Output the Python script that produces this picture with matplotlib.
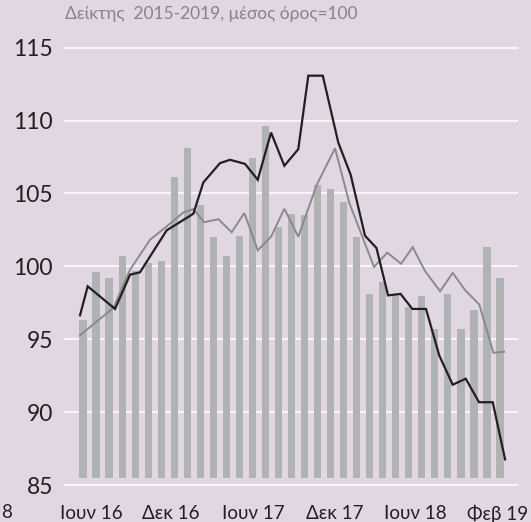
import matplotlib.pyplot as plt
import numpy as np

BG = "#e1d7e3"
C_BAR = "#b1b2b4"
C_DARK = "#231f20"
C_GREY = "#8a8a8c"
C_TEXT = "#858585"

plt.rcParams["font.family"] = ["Lato", "DejaVu Sans"]

# monthly bars, Jun 2016 - Feb 2019
bar_values = [
    96.3, 99.6, 99.2, 100.7, 99.7, 100.2, 100.4, 106.1, 108.1, 104.2, 102.0,
    100.7, 102.1, 107.4, 109.6, 102.7, 103.6, 103.5, 105.6, 105.3, 104.4,
    102.0, 98.1, 98.9, 98.1, 97.2, 98.0, 95.7, 98.1, 95.7, 97.0, 101.3, 99.2,
]

# black line (vertices in month units)
black_x = [
    -0.23, 0.36, 2.46, 3.61, 4.37, 6.42, 8.47, 9.23, 10.51, 11.28, 12.43,
    13.41, 14.43, 15.45, 16.52, 17.29, 18.40, 19.59, 20.54, 21.64, 22.52,
    23.41, 24.37, 25.27, 26.32, 27.34, 28.37, 29.37, 30.39, 31.44, 32.39,
]
black_y = [
    96.64, 98.63, 97.08, 99.43, 99.59, 102.47, 103.61, 105.75, 107.08, 107.31,
    107.03, 105.94, 109.18, 106.9, 108.04, 113.08, 113.08, 108.49, 106.28,
    102.1, 101.26, 98.01, 98.11, 97.08, 97.08, 93.88, 91.88, 92.29, 90.68,
    90.68, 86.76,
]

# grey line
grey_x = [
    -0.23, 2.33, 3.61, 5.14, 6.42, 7.70, 8.47, 9.29, 10.40, 11.41, 12.38,
    13.41, 14.43, 15.45, 16.52, 17.94, 19.34, 20.44, 22.33, 23.35, 24.41,
    25.30, 26.25, 27.40, 28.37, 29.32, 30.41, 31.49, 32.31,
]
grey_y = [
    95.27, 97.15, 99.77, 101.82, 102.74, 103.7, 103.93, 103.03, 103.23,
    102.34, 103.66, 101.1, 102.03, 103.95, 102.03, 105.6, 108.1, 104.34,
    99.96, 100.94, 100.18, 101.32, 99.67, 98.29, 99.55, 98.37, 97.38,
    94.07, 94.14,
]

tick_labels = ["Ιουν 16", "Δεκ 16", "Ιουν 17", "Δεκ 17", "Ιουν 18", "Φεβ 19"]
tick_pos = [0.6, 6.75, 13.05, 19.35, 25.5, 31.8]
y_ticks = [85, 90, 95, 100, 105, 110, 115]

W, H = 531, 522
fig = plt.figure(figsize=(W / 100, H / 100), dpi=100, facecolor=BG)
# axes box in pixels: x 64..518, y for 84.8..115.2
top_px = 47.7 - 0.2 * 14.6
bot_px = 485.0 + 0.2 * 14.6
ax = fig.add_axes([64 / W, 1 - bot_px / H, (518 - 64) / W, (bot_px - top_px) / H])
ax.set_facecolor(BG)

x = np.arange(len(bar_values))
base = 85.5
ax.bar(x, np.array(bar_values) - base, bottom=base, width=0.55, color=C_BAR, zorder=2)
ax.plot(grey_x, grey_y, color=C_GREY, lw=1.4, zorder=3, solid_joinstyle="miter")
ax.plot(black_x, black_y, color=C_DARK, lw=1.6, zorder=4, solid_joinstyle="miter")

for v in y_ticks:
    ax.axhline(v, color="white", lw=1.1, zorder=1)

ax.set_xlim(-1.458, 33.38)
ax.set_ylim(84.8, 115.2)
ax.set_yticks(y_ticks)
ax.set_yticklabels([str(v) for v in y_ticks])
ax.set_xticks(tick_pos)
ax.set_xticklabels(tick_labels)
ax.tick_params(axis="y", length=0, pad=8, labelsize=16.5, labelcolor=C_DARK)
ax.tick_params(axis="x", length=0, pad=12, labelsize=13.5, labelcolor=C_DARK)
for s in ax.spines.values():
    s.set_visible(False)

fig.text(65 / W, 1 - 14 / H, "Δείκτης  2015-2019, μέσος όρος=100",
         ha="left", va="center", fontsize=12.5, color=C_TEXT)
fig.text(1 / W, 1 - 513 / H, "8", ha="left", va="center", fontsize=13.5, color=C_DARK)

fig.savefig("out.png", dpi=100, facecolor=BG)
